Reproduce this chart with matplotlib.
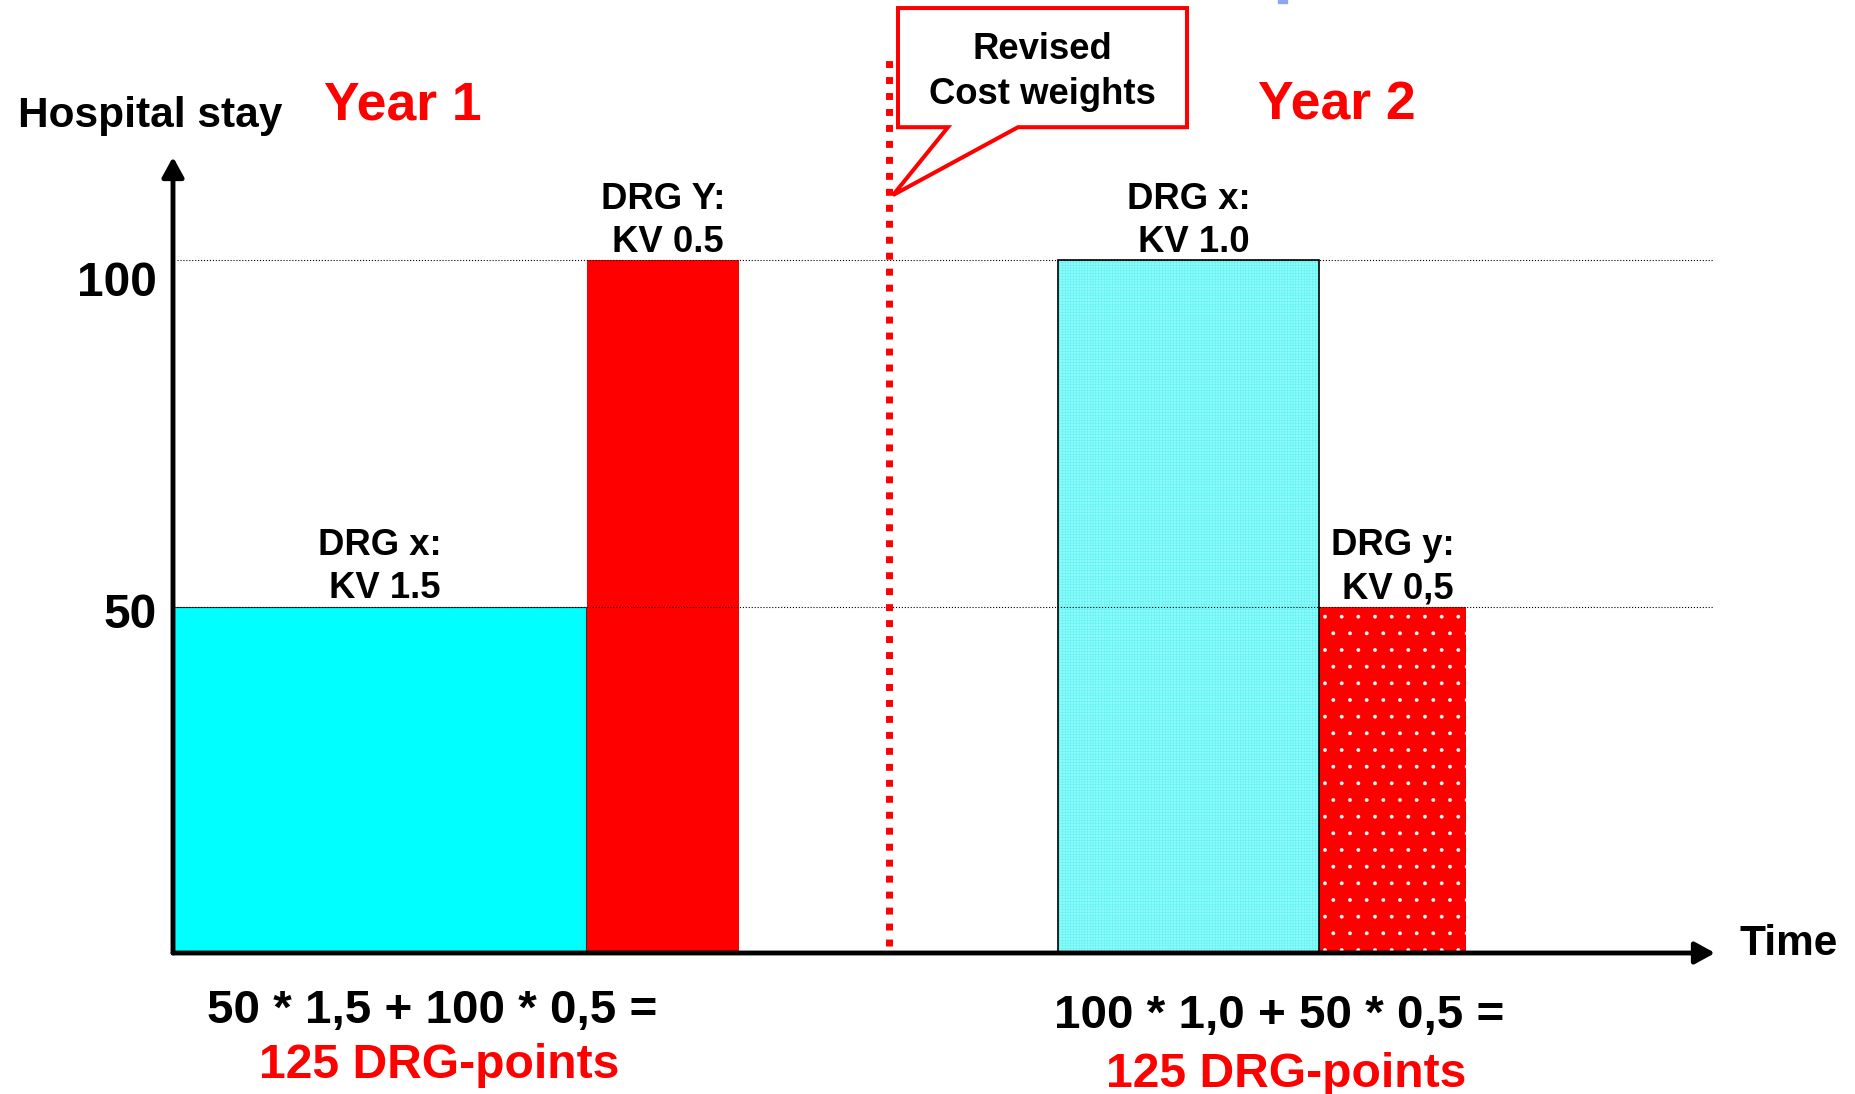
import matplotlib
matplotlib.use("Agg")
import matplotlib.pyplot as plt
from matplotlib.patches import Polygon, Rectangle

plt.rcParams["font.family"] = ["Liberation Sans", "DejaVu Sans"]
plt.rcParams["font.weight"] = "bold"
plt.rcParams["hatch.linewidth"] = 0.3

RED = "#ff0000"

# bars: start on the time axis, width (length of the period), hospital stay
bar_start = [0.0, 41.4, 88.5, 114.6]
bar_width = [41.3, 15.2, 26.1, 14.7]
bar_stay  = [50, 100, 100, 50]
drg_names = ["DRG x:", "DRG Y:", "DRG x:", "DRG y:"]
kv_labels = ["KV 1.5", "KV 0.5", "KV 1.0", "KV 0,5"]

grid_levels = [100, 50]
year_names  = ["Year 1", "Year 2"]
year_x      = [22.95, 116.4]
divider_x   = 71.6          # time of the cost weight revision
formulas    = ["50 * 1,5 + 100 * 0,5 =", "100 * 1,0 + 50 * 0,5 ="]
results     = ["125 DRG-points", "125 DRG-points"]
formula_x   = [25.9, 110.6]

fig = plt.figure(figsize=(18.55, 10.94), dpi=100)
W, H = 1855, 1094
ax = fig.add_axes([173 / W, 1 - 953 / H, (1715 - 173) / W, (953 - 157) / H])
ax.set_xlim(0, 154.2)
ax.set_ylim(0, 114.9)
ax.axis("off")

# ── bars ─────────────────────────────────────────────────────────────────────
ax.bar(bar_start[0], bar_stay[0], bar_width[0], align="edge",
       color="#00ffff", edgecolor="#333333", linewidth=0.8, zorder=2)
ax.bar(bar_start[1], bar_stay[1], bar_width[1], align="edge",
       color=RED, linewidth=0, zorder=2)
# year 2: textured fills
ax.bar(bar_start[2], bar_stay[2], bar_width[2], align="edge",
       color="#8dfbfb", edgecolor="#55eeee", hatch="++++++", linewidth=0, zorder=2)
ax.bar(bar_start[2], bar_stay[2], bar_width[2], align="edge",
       fill=False, edgecolor="black", linewidth=1.2, zorder=2.5)
ax.bar(bar_start[3], bar_stay[3], bar_width[3], align="edge",
       color=RED, edgecolor="white", hatch=".", linewidth=0, zorder=2)

# dotted guide lines
for lvl in grid_levels:
    ax.hlines(lvl, 0.4, 154.0, colors="black", linestyles=":", linewidth=0.8, zorder=3)

# ── axes as arrows ───────────────────────────────────────────────────────────
arrow = dict(arrowstyle="-|>,head_length=0.4,head_width=0.22", mutation_scale=30,
             lw=3.5, color="black", shrinkA=0, shrinkB=0)
ax.annotate("", xy=(0, 1), xytext=(0, 0), xycoords="axes fraction", arrowprops=arrow, zorder=5)
ax.annotate("", xy=(1, 0), xytext=(0, 0), xycoords="axes fraction", arrowprops=arrow, zorder=5)

ax.text(-1.6, 94.9, "100", fontsize=34.5, ha="right", va="baseline")
ax.text(-1.6, 46.9, "50", fontsize=34.5, ha="right", va="baseline")
ax.text(-15.5, 119.2, "Hospital stay", fontsize=30.5, ha="left", va="baseline", clip_on=False)
ax.text(156.7, -0.3, "Time", fontsize=30.5, ha="left", va="baseline", clip_on=False)

# ── bar labels ───────────────────────────────────────────────────────────────
for x0, w, h, name, kv in zip(bar_start, bar_width, bar_stay, drg_names, kv_labels):
    cx = x0 + w / 2
    ax.text(cx, h + 7.4, name, fontsize=26.3, ha="center", va="baseline", zorder=6)
    ax.text(cx + 0.5, h + 1.2, kv, fontsize=26.3, ha="center", va="baseline", zorder=6)

# ── revision divider + callout ───────────────────────────────────────────────
ax.vlines(divider_x, 1.0, 129.3, colors=RED, linewidth=5,
          linestyles=(0, (1.0, 1.3)), clip_on=False, zorder=4)
callout = Polygon([(72.5, 136.4), (101.4, 136.4), (101.4, 119.2), (84.5, 119.2),
                   (divider_x + 0.4, 109.4), (77.5, 119.2), (72.5, 119.2)],
                  closed=True, facecolor="white", edgecolor=RED, linewidth=2.9,
                  joinstyle="miter", clip_on=False, zorder=6)
ax.add_patch(callout)
ax.text(86.9, 129.0, "Revised", fontsize=26.3, ha="center", va="baseline", zorder=7)
ax.text(86.9, 122.6, "Cost weights", fontsize=26.3, ha="center", va="baseline", zorder=7)

# ── years and point totals ───────────────────────────────────────────────────
for x, name in zip(year_x, year_names):
    ax.text(x, 120.3, name, fontsize=38.5, color=RED, ha="center", va="baseline", clip_on=False)

ax.text(formula_x[0], -10.1, formulas[0], fontsize=34.2, ha="center", va="baseline", clip_on=False)
ax.text(formula_x[0] + 0.7, -18.0, results[0], fontsize=34.6, color=RED,
        ha="center", va="baseline", clip_on=False)
ax.text(formula_x[1], -10.8, formulas[1], fontsize=34.2, ha="center", va="baseline", clip_on=False)
ax.text(formula_x[1] + 0.7, -19.3, results[1], fontsize=34.6, color=RED,
        ha="center", va="baseline", clip_on=False)

# small cropped blue mark at the top edge of the slide
fig.patches.append(Rectangle((1278 / W, 1 - 3 / H), 9 / W, 3 / H,
                             transform=fig.transFigure, color="#8ea6ec", zorder=1))

fig.savefig("out.png", dpi=100, facecolor="white")
